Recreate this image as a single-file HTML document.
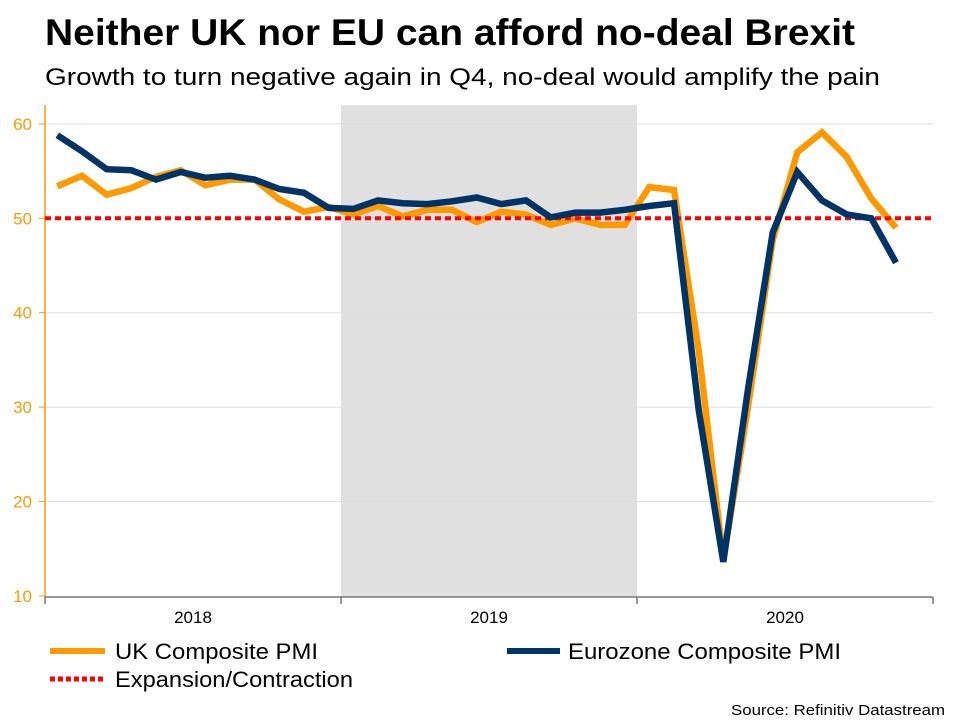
<!DOCTYPE html>
<html><head><meta charset="utf-8"><style>
body{margin:0;background:#fff;font-family:"Liberation Sans",sans-serif;}
</style></head><body>
<svg width="960" height="720" xmlns="http://www.w3.org/2000/svg" font-family="Liberation Sans, sans-serif">
<text x="45" y="45" font-size="37" font-weight="bold" fill="#000" textLength="810" lengthAdjust="spacingAndGlyphs">Neither UK nor EU can afford no-deal Brexit</text>
<text x="45" y="85" font-size="24" fill="#000" textLength="835" lengthAdjust="spacingAndGlyphs">Growth to turn negative again in Q4, no-deal would amplify the pain</text>
<g id="plot"></g>
<g>
<line x1="50" y1="651" x2="105" y2="651" stroke="#ff9900" stroke-width="6"/>
<text x="115" y="659" font-size="22" textLength="203" lengthAdjust="spacingAndGlyphs">UK Composite PMI</text>
<line x1="507" y1="651" x2="560" y2="651" stroke="#003366" stroke-width="6"/>
<text x="568" y="659" font-size="22" textLength="273" lengthAdjust="spacingAndGlyphs">Eurozone Composite PMI</text>
<line x1="50" y1="679" x2="105" y2="679" stroke="#ff0000" stroke-width="5" stroke-dasharray="5,3"/>
<text x="115" y="687" font-size="22" textLength="238" lengthAdjust="spacingAndGlyphs">Expansion/Contraction</text>
</g>
<text x="945" y="715" font-size="15" text-anchor="end" textLength="214" lengthAdjust="spacingAndGlyphs">Source: Refinitiv Datastream</text>
</svg>
<script>
const years=["2018","2019","2020"];
const yTicks=[10,20,30,40,50,60];
const ukPMI=[53.4,54.5,52.5,53.2,54.4,55.1,53.5,54.1,54.1,52.0,50.7,51.2,50.4,51.3,50.2,50.9,50.9,49.6,50.7,50.4,49.3,50.0,49.3,49.3,53.3,53.0,36.0,13.8,30.0,47.7,57.0,59.1,56.5,52.1,49.0];
const ezPMI=[58.8,57.1,55.2,55.1,54.1,54.9,54.3,54.5,54.1,53.1,52.7,51.1,51.0,51.9,51.6,51.5,51.8,52.2,51.5,51.9,50.1,50.6,50.6,50.9,51.3,51.6,29.7,13.6,31.9,48.5,54.9,51.9,50.4,50.0,45.3];
const threshold=50;
const shadeYear=1;
const NS="http://www.w3.org/2000/svg";
const X0=45,X1=933,Y0=597,Ytop=105;
const monthW=(X1-X0)/36;
function xs(i){return X0+(i+0.5)*monthW;}
function ys(v){return 218.3-(v-50)*9.44;}
const g=document.getElementById('plot');
function mk(t,a){const e=document.createElementNS(NS,t);for(const k in a)e.setAttribute(k,a[k]);g.appendChild(e);return e;}
let sh=mk('rect',{x:X0+shadeYear*12*monthW,y:Ytop,width:12*monthW,height:Y0-Ytop,fill:'#e0e0e0'});


yTicks.forEach(v=>{
 if(v!==10&&v!==50){let l=mk('line',{x1:X0,x2:X1,y1:ys(v),y2:ys(v),stroke:'#dddddd','stroke-width':1});
 
 }
 let tk=mk('line',{x1:X0-6,x2:X0,y1:ys(v),y2:ys(v),stroke:'#ff9900','stroke-width':1});
 
 
 let t=mk('text',{x:X0-13,y:ys(v)+6,'text-anchor':'end','font-size':17,fill:'#ff9900'});
 t.textContent=v;
 
 
});
let ya=mk('line',{x1:X0,x2:X0,y1:Ytop,y2:Y0,stroke:'#ff9900','stroke-width':1.5});


let xa=mk('line',{x1:X0,x2:X1,y1:Y0,y2:Y0,stroke:'#777','stroke-width':1.5});


for(let k=0;k<=years.length;k++){
 let tk=mk('line',{x1:X0+k*12*monthW,x2:X0+k*12*monthW,y1:Y0,y2:Y0+7,stroke:'#777','stroke-width':1.5});
 
 
}
years.forEach((y,k)=>{
 let t=mk('text',{x:X0+(k+0.5)*12*monthW,y:623,'text-anchor':'middle','font-size':17,fill:'#000'});
 t.textContent=y;
 
 
});
function pts(a){return a.map((v,i)=>xs(i).toFixed(1)+','+ys(v).toFixed(1)).join(' ');}
let uk=mk('polyline',{points:pts(ukPMI),fill:'none',stroke:'#ff9900','stroke-width':6.5,'stroke-linejoin':'miter'});


let th=mk('line',{x1:X0,x2:X1,y1:ys(threshold),y2:ys(threshold),stroke:'#ff0000','stroke-width':4,'stroke-dasharray':'6,4'});


let ez=mk('polyline',{points:pts(ezPMI),fill:'none',stroke:'#003366','stroke-width':6.5,'stroke-linejoin':'miter'});


</script>
</body></html>
